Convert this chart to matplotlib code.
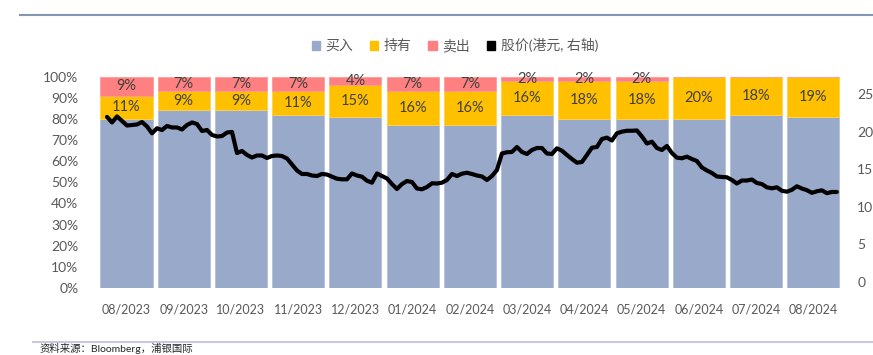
import numpy as np
import matplotlib.pyplot as plt
from matplotlib.patches import Patch
from matplotlib.lines import Line2D

plt.rcParams['font.family'] = ['Lato', 'Noto Sans CJK SC', 'DejaVu Sans']

months = ['08/2023', '09/2023', '10/2023', '11/2023', '12/2023', '01/2024', '02/2024',
          '03/2024', '04/2024', '05/2024', '06/2024', '07/2024', '08/2024']
sell = [9, 7, 7, 7, 4, 7, 7, 2, 2, 2, 0, 0, 0]
hold = [11, 9, 9, 11, 15, 16, 16, 16, 18, 18, 20, 18, 19]
buy = [80, 84, 84, 82, 81, 77, 77, 82, 80, 80, 80, 82, 81]

# share price (HKD), Aug 2023 -> Aug 2024
price = [22.0, 21.26, 22.06, 21.46, 20.85, 20.92, 20.99, 21.32, 20.72, 19.81,
         20.48, 20.25, 20.79, 20.59, 20.59, 20.32, 20.92, 21.26, 21.05, 20.12,
         20.25, 19.59, 19.39, 19.45, 19.92, 19.99, 17.18, 17.45, 16.92, 16.58,
         16.85, 16.85, 16.52, 16.78, 16.85, 16.78, 16.45, 15.65, 14.85, 14.38,
         14.38, 14.18, 14.11, 14.38, 14.31, 14.02, 13.75, 13.67, 13.67, 14.45,
         14.18, 14.02, 13.48, 13.22, 14.45, 14.11, 13.78, 13.04, 12.38, 13.04,
         13.44, 13.31, 12.44, 12.34, 12.64, 13.14, 13.11, 13.22, 13.58, 14.38,
         14.11, 14.42, 14.55, 14.38, 14.18, 14.05, 13.58, 14.11, 14.91, 17.12,
         17.28, 17.32, 17.98, 17.32, 17.05, 17.58, 17.85, 17.85, 17.12, 17.05,
         17.81, 17.49, 16.92, 16.38, 15.89, 15.98, 16.92, 17.89, 17.98, 19.05,
         19.23, 18.85, 19.81, 20.03, 20.15, 20.15, 20.19, 19.39, 18.45, 18.69,
         17.85, 17.58, 18.12, 17.18, 16.56, 16.48, 16.69, 16.38, 16.11, 15.25,
         14.85, 14.51, 14.05, 13.98, 13.94, 13.58, 13.11, 13.51, 13.51, 13.64,
         13.18, 13.04, 12.60, 12.47, 12.60, 12.14, 12.02, 12.27, 12.74, 12.44,
         12.22, 11.87, 12.07, 12.20, 11.82, 11.98, 11.98]

c_buy = '#99A9C9'
c_hold = '#FFC000'
c_sell = '#FF8080'
grey = '#595959'

fig = plt.figure(figsize=(8.73, 3.55), dpi=100)
ax = fig.add_axes([0.1121, 0.1887, 0.8524, 0.5953])

x = np.arange(len(months))
w = 0.91
b1 = np.array(buy)
b2 = b1 + np.array(hold)
ax.bar(x, buy, w, color=c_buy, edgecolor='#B4C0D8', linewidth=0.6)
ax.bar(x, hold, w, bottom=b1, color=c_hold, edgecolor='#FFD24D', linewidth=0.6)
ax.bar(x, sell, w, bottom=b2, color=c_sell, edgecolor='#FF9A9A', linewidth=0.6)

for i in range(len(months)):
    ax.text(x[i], b1[i] + hold[i] / 2, '{}%'.format(hold[i]), ha='center', va='center',
            fontsize=10.5, color='#404040')
    if sell[i] > 0:
        ax.text(x[i], b2[i] + sell[i] / 2, '{}%'.format(sell[i]), ha='center', va='center',
                fontsize=10.5, color='#404040')

ax.set_xlim(-0.5, 12.5)
ax.set_ylim(0, 100)
ax.set_yticks(range(0, 101, 10))
ax.set_yticklabels(['{}%'.format(v) for v in range(0, 101, 10)])
ax.set_xticks(x)
ax.set_xticklabels(months)
ax.tick_params(length=0, labelsize=10, colors=grey, pad=10)
ax.tick_params(axis='x', labelsize=9, pad=11)
ax.tick_params(axis='y', pad=14)
for s in ax.spines.values():
    s.set_visible(False)

ax2 = ax.twinx()
px = np.linspace(-0.34, 12.41, len(price))
ax2.plot(px, price, color='black', lw=3, solid_joinstyle='round', solid_capstyle='round')
ax2.set_ylim(-0.84, 27.37)
ax2.set_yticks(range(0, 26, 5))
ax2.tick_params(length=0, labelsize=10, colors=grey, pad=11)
for s in ax2.spines.values():
    s.set_visible(False)

handles = [Patch(color=c_buy), Patch(color=c_hold), Patch(color=c_sell), Patch(color='black')]
labels = ['买入', '持有', '卖出', '股价(港元, 右轴)']
leg = fig.legend(handles, labels, loc='center', bbox_to_anchor=(0.521, 0.873), ncol=4,
                 frameon=False, fontsize=10, handlelength=0.6, handleheight=0.6,
                 handletextpad=0.4, columnspacing=1.2)
for t in leg.get_texts():
    t.set_color(grey)

fig.add_artist(Line2D([0.023, 1.0], [1 - 15 / 355, 1 - 15 / 355], color='#8497B0', lw=1.5))
fig.add_artist(Line2D([0.038, 1.0], [1 - 342 / 355, 1 - 342 / 355], color='#C5CAE0', lw=1.5))
fig.text(0.045, 0.004, '资料来源：Bloomberg，浦银国际', fontsize=7.5, va='bottom', color='#262626')

plt.savefig('out.png', dpi=100)
